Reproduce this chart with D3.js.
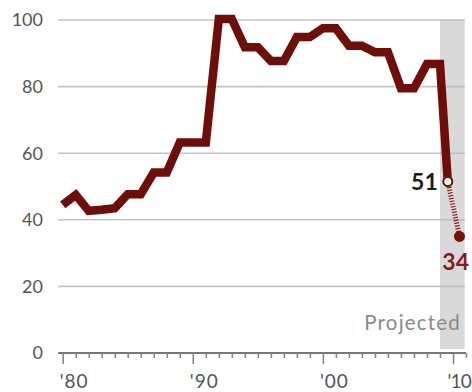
<!DOCTYPE html>
<html>
<head>
<meta charset="utf-8">
<script src="https://cdn.jsdelivr.net/npm/d3@7"></script>
<style>
  html, body { margin: 0; padding: 0; background: #fff; }
  svg { display: block; }
  text { font-family: Lato, "Open Sans", sans-serif; }
</style>
</head>
<body>
<svg id="chart" width="472" height="392"></svg>
<script>
// ---- data ----
const years = [1980,1981,1982,1983,1984,1985,1986,1987,1988,1989,1990,1991,1992,1993,1994,1995,1996,1997,1998,1999,2000,2001,2002,2003,2004,2005,2006,2007,2008,2009];
const values = [44.5,47.5,42.7,43,43.5,47.7,47.7,54.2,54.2,63.2,63.2,63.2,100.3,100.3,91.8,91.8,87.7,87.7,94.9,94.9,97.5,97.5,92.3,92.3,90.3,90.3,79.5,79.5,86.8,86.8];
const projYears = [2009.6, 2010.5];
const projValues = [51.5, 35];
const projLabels = ["51", "34"];
const yTicks = [0, 20, 40, 60, 80, 100];
const decadeTicks = [1980, 1990, 2000, 2010];
const decadeLabels = ["'80", "'90", "'00", "'10"];
const shadeRange = [2009, 2010.9];
const projectedLabel = "Projected";

// ---- scales ----
const svg = d3.select("#chart");
const x = d3.scaleLinear().domain([1980, 2010]).range([62.7, 453]);
const y = d3.scaleLinear().domain([0, 100]).range([353, 20]);

const lineColor = "#6e0e0a";

// shaded projected region
svg.append("rect")
  .attr("x", x(shadeRange[0]))
  .attr("y", y(100))
  .attr("width", x(shadeRange[1]) - x(shadeRange[0]))
  .attr("height", y(0) - y(100) - 4)
  .attr("fill", "#d9d9d9");

// gridlines
svg.append("g").selectAll("line")
  .data(yTicks.filter(d => d > 0))
  .join("line")
  .attr("x1", x(1979.65)).attr("x2", x(2010.9))
  .attr("y1", d => y(d)).attr("y2", d => y(d))
  .attr("stroke", "#b9b9b9")
  .attr("stroke-opacity", 0.85)
  .attr("stroke-width", 1.6);

// y labels
svg.append("g").selectAll("text")
  .data(yTicks)
  .join("text")
  .attr("x", 43)
  .attr("y", d => y(d))
  .attr("dy", "0.36em")
  .attr("text-anchor", "end")
  .attr("font-size", 18)
  .attr("fill", "#555")
  .text(d => d);

// x axis
const allYears = d3.range(1980, 2012);
const axis = d3.axisBottom(x)
  .tickValues(allYears)
  .tickSize(5)
  .tickSizeOuter(0)
  .tickFormat("");
const ax = svg.append("g")
  .attr("transform", `translate(0,${y(0)})`)
  .call(axis);
ax.select(".domain")
  .attr("d", `M${x(1979.65)},0H${x(2011)}`)
  .attr("stroke", "#777").attr("stroke-width", 1.8);
ax.selectAll(".tick line")
  .attr("stroke", "#888").attr("stroke-width", 1.6)
  .attr("y2", d => decadeTicks.includes(d) ? 11 : 5);

// decade labels
svg.append("g").selectAll("text")
  .data(decadeTicks)
  .join("text")
  .attr("x", (d, i) => i === decadeTicks.length - 1 ? 471 : x(d) - 3)
  .attr("y", 388)
  .attr("text-anchor", (d, i) => i === decadeTicks.length - 1 ? "end" : "start")
  .attr("font-size", 19)
  .attr("letter-spacing", (d, i) => i === decadeTicks.length - 1 ? -0.8 : 1)
  .attr("fill", "#555")
  .text((d, i) => decadeLabels[i]);

// "Projected"
svg.append("text")
  .attr("x", 461)
  .attr("y", 330)
  .attr("text-anchor", "end")
  .attr("font-size", 20.5)
  .attr("letter-spacing", 1.2)
  .attr("fill", "#8a8a8a")
  .text(projectedLabel);

// main line (actual data plus drop to first projected point)
const mainData = years.map((yr, i) => [yr, values[i]]).concat([[projYears[0], projValues[0]]]);
const line = d3.line().x(d => x(d[0])).y(d => y(d[1]));
svg.append("path")
  .datum(mainData)
  .attr("d", line)
  .attr("fill", "none")
  .attr("stroke", lineColor)
  .attr("stroke-width", 8.5)
  .attr("stroke-linejoin", "miter")
  .attr("stroke-miterlimit", 3);

// projected hatched segment
const projData = projYears.map((yr, i) => [yr, projValues[i]]);
svg.append("path")
  .datum(projData)
  .attr("d", line)
  .attr("fill", "none")
  .attr("stroke", "#8b1d18")
  .attr("stroke-width", 5)
  .attr("stroke-dasharray", "1.2 1.6");

// end points
svg.append("circle")
  .attr("cx", x(projYears[0])).attr("cy", y(projValues[0]))
  .attr("r", 4.5)
  .attr("fill", "#fff")
  .attr("stroke", lineColor)
  .attr("stroke-width", 2);
svg.append("circle")
  .attr("cx", x(projYears[1])).attr("cy", y(projValues[1]))
  .attr("r", 5.5)
  .attr("fill", "#7a100c");

// value labels
svg.append("text")
  .attr("x", x(projYears[0]) - 10)
  .attr("y", y(projValues[0]))
  .attr("dy", "0.36em")
  .attr("text-anchor", "end")
  .attr("font-size", 23)
  .attr("font-weight", 700)
  .attr("fill", "#1a1a1a")
  .text(projLabels[0]);
svg.append("text")
  .attr("x", 469)
  .attr("y", 270)
  .attr("text-anchor", "end")
  .attr("font-size", 23)
  .attr("font-weight", 700)
  .attr("fill", "#8b1a14")
  .text(projLabels[1]);
</script>
</body>
</html>
